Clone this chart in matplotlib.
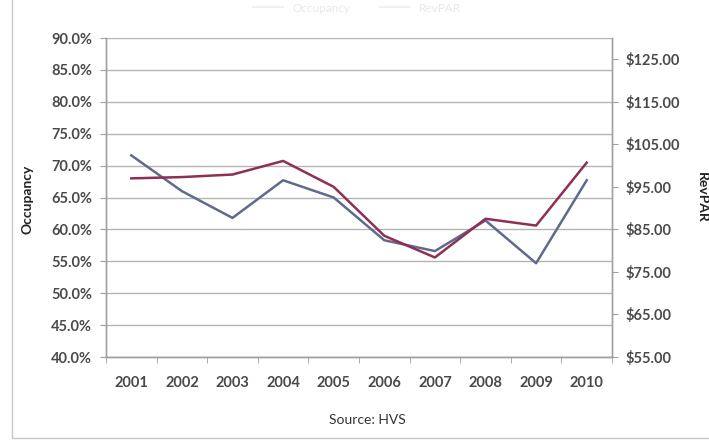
import matplotlib
matplotlib.use("Agg")
import matplotlib.pyplot as plt
from matplotlib.lines import Line2D
from matplotlib.patches import Rectangle
from matplotlib.ticker import FuncFormatter, FixedLocator

plt.rcParams["font.family"] = ["Lato", "DejaVu Sans"]

years = ["2001", "2002", "2003", "2004", "2005", "2006", "2007", "2008", "2009", "2010"]
occupancy = [71.6, 66.0, 61.8, 67.7, 65.0, 58.3, 56.6, 61.4, 54.7, 67.7]
revpar = [97.0, 97.3, 97.9, 101.1, 95.0, 83.5, 78.4, 87.5, 85.9, 100.7]
occ_ticks = [40, 45, 50, 55, 60, 65, 70, 75, 80, 85, 90]
rev_ticks = [55, 65, 75, 85, 95, 105, 115, 125]

OCC_COLOR = "#626a8c"
REV_COLOR = "#8e2f55"
GRID = "#b4b4b4"
TICK_TXT = "#4a4a4a"

fig = plt.figure(figsize=(7.09, 4.40), dpi=100)
fig.patch.set_facecolor("white")

# chart-area frame (only left and bottom edges are inside the picture)
fig.add_artist(Rectangle((12 / 709, 1 - 438 / 440), 1.0, 1.0, transform=fig.transFigure,
                         fill=False, edgecolor="#c8c8c8", linewidth=1.0))

ax = fig.add_axes([106 / 709, 1 - 357 / 440, 506 / 709, 319 / 440])
ax2 = ax.twinx()

x = list(range(len(years)))
ax.plot(x, occupancy, color=OCC_COLOR, linewidth=1.8, zorder=3)
ax2.plot(x, revpar, color=REV_COLOR, linewidth=1.8, zorder=3)

ax.set_xlim(-0.5, len(years) - 0.5)
ax.set_ylim(40, 90)
ax2.set_ylim(55, 130)

ax.yaxis.set_major_locator(FixedLocator(occ_ticks))
ax.yaxis.set_major_formatter(FuncFormatter(lambda v, p: f"{v:.1f}%"))
ax2.yaxis.set_major_locator(FixedLocator(rev_ticks))
ax2.yaxis.set_major_formatter(FuncFormatter(lambda v, p: f"${v:.2f}"))

# category labels centred, tick marks between categories
ax.set_xticks(x)
ax.set_xticklabels(years)
ax.xaxis.set_minor_locator(FixedLocator([i - 0.5 for i in range(len(years) + 1)]))
ax.tick_params(axis="x", which="major", length=0, pad=14, labelsize=10.5, labelcolor=TICK_TXT)
ax.tick_params(axis="x", which="minor", length=4, color="#a0a0a0", direction="out")
ax.tick_params(axis="y", length=4, color="#a0a0a0", pad=6, labelsize=10.5, labelcolor=TICK_TXT)
ax2.tick_params(axis="y", length=4, color="#a0a0a0", pad=6, labelsize=10.5, labelcolor=TICK_TXT)
for lab in ax.get_xticklabels() + ax.get_yticklabels() + ax2.get_yticklabels():
    lab.set_fontweight("bold")

ax.grid(axis="y", color=GRID, linewidth=1.0)
ax.set_axisbelow(True)
for a in (ax, ax2):
    a.spines["top"].set_visible(False)
    for side in ("left", "right", "bottom"):
        a.spines[side].set_color("#a0a0a0")
        a.spines[side].set_linewidth(1.0)

fig.text(27 / 709, 1 - 199 / 440, "Occupancy", rotation=90, ha="center", va="center",
         fontsize=10, fontweight="bold", color="#222222")
fig.text(702 / 709, 1 - 197 / 440, "RevPAR", rotation=-90, ha="center", va="center",
         fontsize=10, fontweight="bold", color="#222222")
fig.text(367 / 709, 1 - 420 / 440, "Source: HVS", ha="center", va="center",
         fontsize=10, color="#333333")

# washed-out legend at the top
leg = fig.legend(handles=[Line2D([], [], color="#f0f0f0", linewidth=1.5),
                          Line2D([], [], color="#f0f0f0", linewidth=1.5)],
                 labels=["Occupancy", "RevPAR"], loc="center", ncol=2,
                 bbox_to_anchor=(357 / 709, 1 - 8 / 440), frameon=False,
                 fontsize=8.5, handlelength=2.5, columnspacing=2.5)
for t in leg.get_texts():
    t.set_color("#e8e8e8")

fig.savefig("out.png", dpi=100)
